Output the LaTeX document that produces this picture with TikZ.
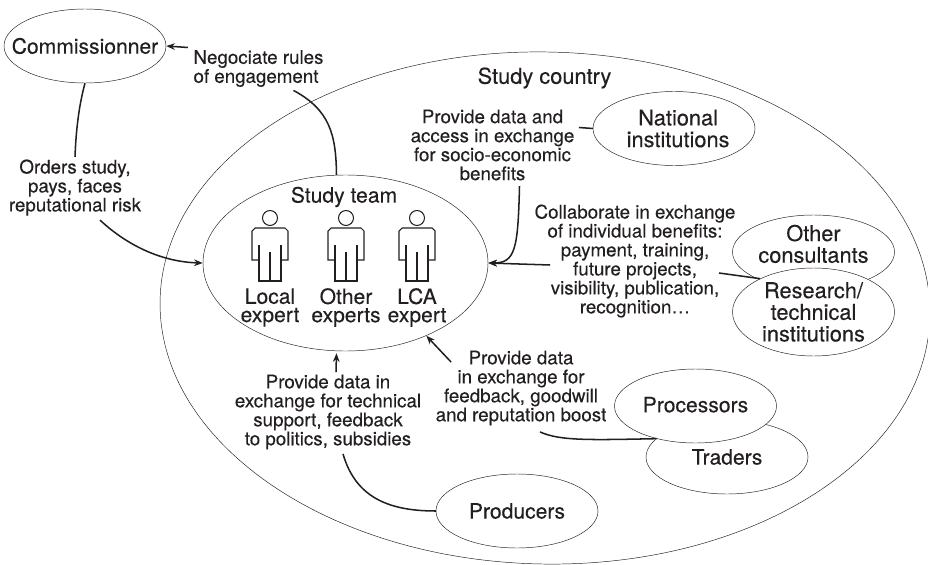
\documentclass[tikz,border=0pt]{standalone}
\usepackage{fontspec}
\setmainfont{TeX Gyre Heros}[FakeBold=0.25]
\usetikzlibrary{shapes.geometric,calc,arrows.meta}
\definecolor{ink}{RGB}{35,31,32}
\tikzset{
  actor/.style={draw=ink,line width=0.4pt,ellipse,inner xsep=-32pt,inner ysep=-12pt,align=center,text=ink,
    font=\fontsize{18}{18.5}\selectfont,minimum width=4.86cm,minimum height=2.22cm},
  bigactor/.style={actor,font=\fontsize{18.6}{18.5}\selectfont},
  lab/.style={align=center,inner sep=2pt,text=ink,font=\fontsize{16}{16.2}\selectfont},
  biglab/.style={align=center,inner sep=0pt,text=ink,font=\fontsize{18}{15.6}\selectfont},
  link/.style={draw=ink,line width=1.3pt},
  arrow/.style={link,-{Stealth[length=2.6mm,width=2mm]}},
  person/.style={draw=ink,line width=0.9pt}
}
\begin{document}
\begin{tikzpicture}[x=0.03cm,y=-0.03cm]
\useasboundingbox (0,0) rectangle (928,565);
% big ellipses
\node[actor,rotate=-1.2,minimum width=23.1cm,minimum height=15.36cm] (country) at (545,308) {};
\node[actor,minimum width=8.55cm,minimum height=5.28cm] (team) at (345.5,263) {};
\node[actor] (comm) at (85,46) {Commissionner};
\node[bigactor] (natl) at (674,128.5) {\hspace*{7pt}National\\\hspace*{7pt}institutions};
\node[bigactor] (cons) at (813.5,252) {Other\\consultants\\[-4.4pt]};
\node[bigactor,fill=white,minimum height=2.64cm] (res) at (813.5,312) {Research/\\technical\\institutions};
\node[actor] (trad) at (727,457) {\raisebox{-4pt}{Traders}};
\node[actor,fill=white] (proc) at (695.5,406) {\raisebox{2.5pt}{Processors}};
\node[actor] (prod) at (517,511) {\raisebox{-1.5pt}{Producers}};
% titles
\node[biglab,font=\fontsize{18.6}{18.5}\selectfont] (ctitle) at (544.5,78) {Study country};
\node[biglab] (ttitle) at (344,197) {Study team};
% people
\foreach \x in {270,346,417}{
  \draw[person] (\x,218) circle (7.5);
  \draw[person] (\x-11,260) -- (\x-18,260) -- (\x-18,231) -- (\x-15,228) -- (\x+15,228)
    -- (\x+18,231) -- (\x+18,260) -- (\x+11,260);
  \draw[person] (\x-11,245) -- (\x-11,281) -- (\x+11,281) -- (\x+11,245);
  \draw[person] (\x,252) -- (\x,281);
}
\node[biglab] (local) at (270,307.5) {Local\\expert};
\node[biglab] (other) at (346,307.5) {Other\\experts};
\node[biglab] (lca) at (417,307.5) {LCA\\expert};
% labels
\node[lab,align=left] (nego) at (258.5,68.5) {Negociate rules\\of engagement};
\node[lab] (orders) at (75,187.5) {Orders study,\\pays, faces\\reputational risk};
\node[lab] (access) at (492.5,145) {Provide data and\\access in exchange\\for socio-economic\\benefits};
\node[lab] (collab) at (635,261) {Collaborate in exchange\\of individual benefits:\\payment, training,\\future projects,\\visibility, publication,\\recognition…};
\node[lab] (boost) at (521,388) {Provide data\\in exchange for\\feedback, goodwill\\and reputation boost};
\node[lab] (support) at (328,412) {Provide data in\\exchange for technical\\support, feedback\\to politics, subsidies};
% connectors
\draw[arrow] ($(nego.west)+(-3,-21)$) -- (comm.east);
\draw[link] (comm.south) .. controls (79,105) and (76,130) .. (orders.north);
\draw[arrow] ($(orders.south)+(25,2)$) .. controls (130,248) and (165,262) .. (team.west);
\draw[link] ($(team.north)+(-9,0)$) .. controls (336,135) and (330,110) .. ($(nego.south)+(35,1)$);
\draw[link] (natl.west) -- ($(access.east)+(2,-17.5)$);
\draw[arrow] ($(access.south)+(27,3)$) .. controls (518,250) and (515,263) .. (team.east);
\draw[arrow] ($(collab.west)+(18,4)$) -- (team.east);
\draw[link] (res.148) -- ($(collab.east)+(-19,12)$);
\draw[arrow] ($(boost.north west)+(18,14)$) -- (team.-42);
\draw[link] (proc.220) .. controls (590,440) and (560,441) .. ($(boost.south)+(19,4)$);
\draw[arrow] ($(support.north)+(8,0)$) -- ($(team.south)+(-9,2)$);
\draw[link] (prod.west) .. controls (385,511) and (355,495) .. ($(support.south)+(15,2)$);
\end{tikzpicture}
\end{document}
